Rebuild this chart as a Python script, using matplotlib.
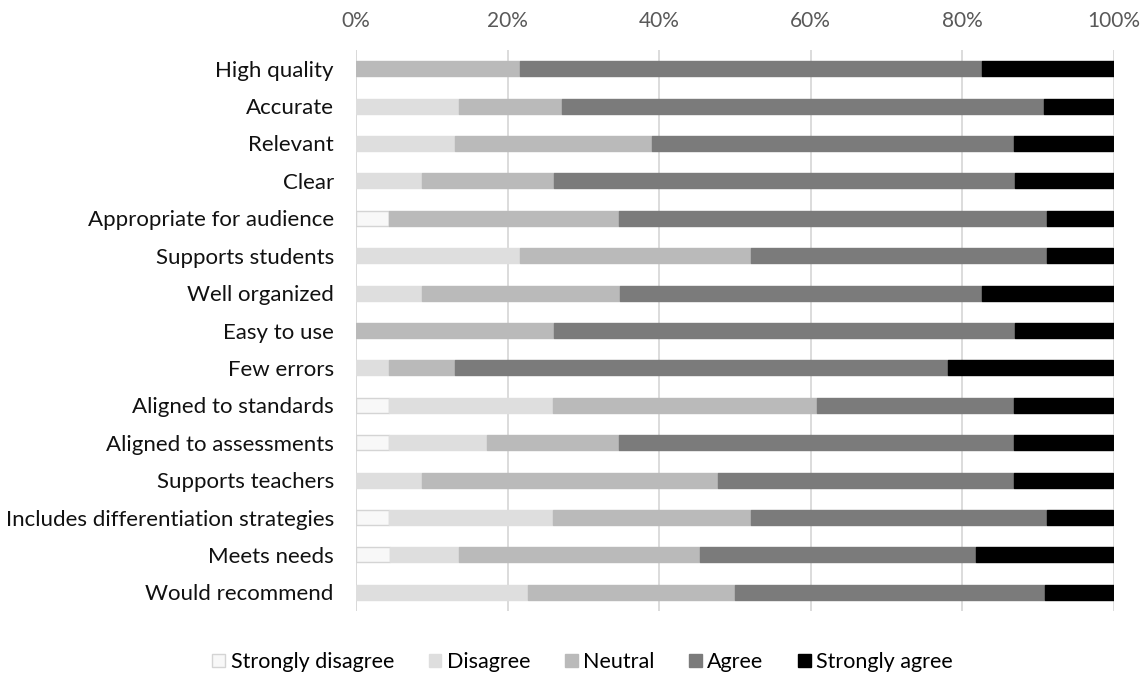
import matplotlib
matplotlib.use("Agg")
import matplotlib.pyplot as plt
from matplotlib.ticker import PercentFormatter, MultipleLocator
import numpy as np

plt.rcParams['font.family'] = ['Lato', 'DejaVu Sans']

categories = ["High quality", "Accurate", "Relevant", "Clear", "Appropriate for audience",
              "Supports students", "Well organized", "Easy to use", "Few errors",
              "Aligned to standards", "Aligned to assessments", "Supports teachers",
              "Includes differentiation strategies", "Meets needs", "Would recommend"]
series = ["Strongly disagree", "Disagree", "Neutral", "Agree", "Strongly agree"]

strongly_disagree = [0.0, 0.0, 0.0, 0.0, 4.3, 0.0, 0.0, 0.0, 0.0, 4.3, 4.3, 0.0, 4.3, 4.5, 0.0]
disagree          = [0.0, 13.6, 13.0, 8.7, 0.0, 21.7, 8.7, 0.0, 4.3, 21.7, 13.0, 8.7, 21.7, 9.1, 22.7]
neutral           = [21.7, 13.6, 26.1, 17.4, 30.4, 30.4, 26.1, 26.1, 8.7, 34.8, 17.4, 39.1, 26.1, 31.8, 27.3]
agree             = [60.9, 63.6, 47.8, 60.9, 56.5, 39.1, 47.8, 60.9, 65.2, 26.1, 52.2, 39.1, 39.1, 36.4, 40.9]
strongly_agree    = [17.4, 9.1, 13.0, 13.0, 8.7, 8.7, 17.4, 13.0, 21.7, 13.0, 13.0, 13.0, 8.7, 18.2, 9.1]

colors = ["#f8f8f8", "#dedede", "#bababa", "#7b7b7b", "#000000"]
edges = ["#d4d4d4", "#dedede", "#bababa", "#7b7b7b", "#000000"]

fig = plt.figure(figsize=(11.47, 6.79), dpi=100)
ax = fig.add_axes([0.3104, 0.1001, 0.6604, 0.8263])

data = [strongly_disagree, disagree, neutral, agree, strongly_agree]
y = np.arange(len(categories))
left = np.zeros(len(categories))
handles = []
for vals, name, c, ec in zip(data, series, colors, edges):
    v = np.array(vals)
    h = ax.barh(y, v, left=left, height=0.4, color=c, edgecolor=ec, linewidth=1.0, label=name, zorder=3)
    handles.append(h)
    left += v

ax.set_xlim(0, 100)
ax.set_ylim(len(categories) - 0.5, -0.5)
ax.set_yticks(y)
ax.set_yticklabels(categories, fontsize=16, color="#111111")
ax.xaxis.set_major_locator(MultipleLocator(20))
ax.xaxis.set_major_formatter(PercentFormatter(decimals=0))
ax.xaxis.tick_top()
ax.tick_params(axis='x', length=0, labelsize=15, labelcolor="#595959", pad=14)
ax.tick_params(axis='y', length=0, pad=16)
ax.grid(axis='x', color="#d9d9d9", linewidth=1.3, zorder=0)
for s in ax.spines.values():
    s.set_visible(False)
ax.axvline(0, color="#d9d9d9", linewidth=1.3, zorder=1)

leg = fig.legend(handles=handles, labels=series, loc='center', bbox_to_anchor=(0.508, 0.025),
                 ncol=5, frameon=False, fontsize=15.5, handlelength=0.6, handleheight=0.6,
                 handletextpad=0.25, columnspacing=1.6)

fig.savefig("out.png", dpi=100)
